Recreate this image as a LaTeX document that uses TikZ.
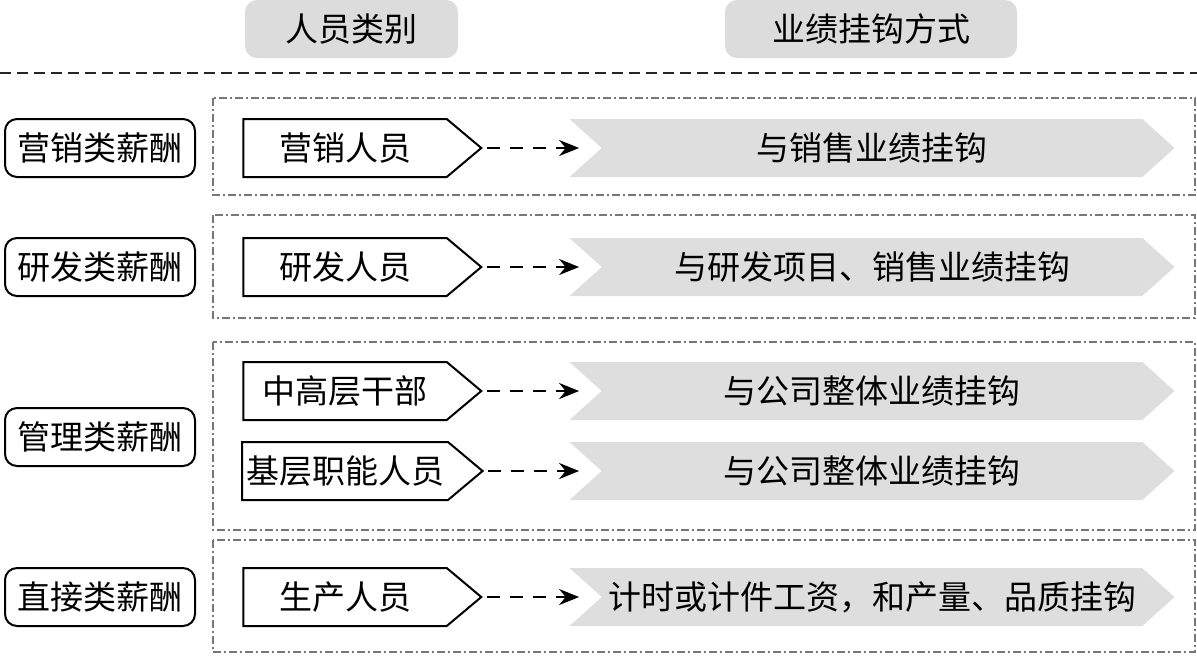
\documentclass[tikz,border=0pt]{standalone}
\usepackage{fontspec}
\setmainfont{Noto Sans CJK SC}
\usetikzlibrary{arrows.meta,shapes.symbols}
\definecolor{hdrgray}{HTML}{DCDCDC}
\definecolor{chevgray}{HTML}{DEDEDE}
\definecolor{grpline}{HTML}{777777}
\tikzset{
  txt/.style={font=\fontsize{16.5}{18}\selectfont},
  hdr/.style={txt, fill=hdrgray, rounded corners=6pt, minimum height=29pt, inner sep=0pt},
  cat/.style={txt, draw=black, line width=1pt, rounded corners=6pt, minimum width=95pt, minimum height=29pt, inner sep=0pt},
  grp/.style={draw=grpline, line width=0.6pt, dash pattern=on 4pt off 1.5pt on 1pt off 1.5pt},
  person/.style={txt, draw=black, line width=1pt, fill=white, shape=signal, signal to=east, signal pointer angle=80, minimum width=119pt, minimum height=29pt, inner sep=2pt},
  chev/.style={txt, fill=chevgray, shape=signal, signal from=west, signal to=east, signal pointer angle=84, minimum width=302.5pt, minimum height=29pt, inner sep=2pt},
  link/.style={draw=black, line width=1.2pt, dash pattern=on 6.5pt off 5pt, -{Stealth[length=10pt,width=8pt]}}
}
\begin{document}
\begin{tikzpicture}[x=0.5pt,y=-0.5pt]
\useasboundingbox (0,0) rectangle (1197,655);
% headers
\node[hdr, minimum width=106.5pt] (h1) at (351.5,29) {人员类别};
\node[hdr, minimum width=146pt] (h2) at (871,29) {业绩挂钩方式};
\draw[line width=1.2pt, draw=black!85, dash pattern=on 5.5pt off 3pt] (0,73) -- (1197,73);
% groups
\draw[grp] (213,98) rectangle (1195,195);
\draw[grp] (213,215) rectangle (1195,318);
\draw[grp] (213,342) rectangle (1195,530);
\draw[grp] (213,540) rectangle (1195,652);
% categories
\node[cat] (c1) at (100,148) {营销类薪酬};
\node[cat] (c2) at (100,267) {研发类薪酬};
\node[cat] (c3) at (100,437) {管理类薪酬};
\node[cat] (c4) at (100,597) {直接类薪酬};
% persons
\node[person] (p1) at (345,148) {营销人员};
\node[person] (p2) at (345,267) {研发人员};
\node[person] (p3) at (345,391) {中高层干部};
\node[person] (p4) at (345,471) {基层职能人员};
\node[person] (p5) at (345,597) {生产人员};
% chevrons
\node[chev] (m1) at (872,148) {与销售业绩挂钩};
\node[chev] (m2) at (872,267) {与研发项目、销售业绩挂钩};
\node[chev] (m3) at (872,391) {与公司整体业绩挂钩};
\node[chev] (m4) at (872,471) {与公司整体业绩挂钩};
\node[chev] (m5) at (872,597) {计时或计件工资，和产量、品质挂钩};
% links
\foreach \i in {1,...,5}{
  \draw[link] ([xshift=2pt]p\i.east) -- ([xshift=-11pt]m\i.west);
}
\end{tikzpicture}
\end{document}
